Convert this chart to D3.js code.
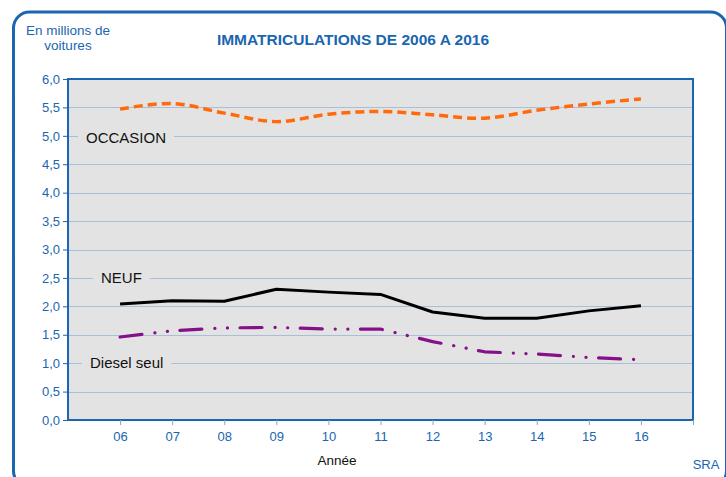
<!DOCTYPE html>
<html>
<head>
<meta charset="utf-8">
<script src="https://cdn.jsdelivr.net/npm/d3@7"></script>
<style>
  body { margin: 0; background: #fff; }
  text { font-family: "Liberation Sans", Arial, sans-serif; }
</style>
</head>
<body>
<script>

// years (2-digit labels) and series values, in millions of cars
var years = [6, 7, 8, 9, 10, 11, 12, 13, 14, 15, 16];
var yearLabels = ["06", "07", "08", "09", "10", "11", "12", "13", "14", "15", "16"];
var occasion = [5.47, 5.57, 5.40, 5.25, 5.38, 5.43, 5.37, 5.31, 5.45, 5.56, 5.65];
var neuf = [2.04, 2.10, 2.09, 2.30, 2.25, 2.21, 1.90, 1.79, 1.79, 1.92, 2.01];
var diesel = [1.46, 1.57, 1.62, 1.63, 1.60, 1.60, 1.38, 1.20, 1.16, 1.10, 1.06];
var yTicks = [0, 0.5, 1, 1.5, 2, 2.5, 3, 3.5, 4, 4.5, 5, 5.5, 6];

var blue = "#1a66b0";

// plot area
var plot = { left: 68, right: 693, top: 79, bottom: 420 };

var svg = d3.select("body")
            .append("svg")
            .attr("width", 726)
            .attr("height", 477);

// outer rounded frame (bottom edge runs off the picture)
svg.append("rect")
   .attr("x", 13.5)
   .attr("y", 12)
   .attr("width", 713)
   .attr("height", 475)
   .attr("rx", 16)
   .attr("fill", "none")
   .attr("stroke", blue)
   .attr("stroke-width", 3);

// scales
var xScale = d3.scaleLinear()
               .domain([5, 17])
               .range([plot.left, plot.right]);
var yScale = d3.scaleLinear()
               .domain([0, 6])
               .range([plot.bottom, plot.top]);

// background
svg.append("rect")
   .attr("x", plot.left)
   .attr("y", plot.top)
   .attr("width", plot.right - plot.left)
   .attr("height", plot.bottom - plot.top)
   .attr("fill", "#e3e3e3");

// grid lines
svg.append("g")
   .selectAll("line")
   .data(yTicks.slice(1))
   .join("line")
   .attr("x1", plot.left)
   .attr("x2", plot.right)
   .attr("y1", function(d) { return Math.round(yScale(d)) + 0.5; })
   .attr("y2", function(d) { return Math.round(yScale(d)) + 0.5; })
   .attr("stroke", "#a9bfd6")
   .attr("stroke-width", 1);

// series labels, with grey box to hide the grid behind
function seriesLabel(txt, x, y) {
  var t = svg.append("text")
             .attr("x", x)
             .attr("y", y)
             .attr("font-size", 15)
             .attr("fill", "#111")
             .text(txt);
  var b = t.node().getBBox();
  svg.insert("rect", "text")
     .attr("x", b.x - 8)
     .attr("y", b.y)
     .attr("width", b.width + 16)
     .attr("height", b.height)
     .attr("fill", "#e3e3e3");
}
seriesLabel("OCCASION", 86, 143);
seriesLabel("NEUF", 101, 283);
seriesLabel("Diesel seul", 90, 368);

// lines
function lineMaker(curve) {
  return d3.line()
           .x(function(d, i) { return xScale(years[i]); })
           .y(function(d) { return yScale(d); })
           .curve(curve);
}

svg.append("path")
   .attr("d", lineMaker(d3.curveCatmullRom.alpha(0.5))(occasion))
   .attr("fill", "none")
   .attr("stroke", "#ff6a0d")
   .attr("stroke-width", 3.5)
   .attr("stroke-dasharray", "9,5");

svg.append("path")
   .attr("d", lineMaker(d3.curveLinear)(neuf))
   .attr("fill", "none")
   .attr("stroke", "#000")
   .attr("stroke-width", 3)
   .attr("stroke-linejoin", "round");

svg.append("path")
   .attr("d", lineMaker(d3.curveLinear)(diesel))
   .attr("fill", "none")
   .attr("stroke", "#85108a")
   .attr("stroke-width", 3.2)
   .attr("stroke-linecap", "round")
   .attr("stroke-linejoin", "round")
   .attr("stroke-dasharray", "22,13,0.1,12.5,0.1,12.5");

// plot border
svg.append("rect")
   .attr("x", plot.left)
   .attr("y", plot.top)
   .attr("width", plot.right - plot.left)
   .attr("height", plot.bottom - plot.top)
   .attr("fill", "none")
   .attr("stroke", blue)
   .attr("stroke-width", 2);

// y axis
var yAxis = d3.axisLeft(yScale)
              .tickValues(yTicks)
              .tickSize(5)
              .tickFormat(function(d) { return d3.format(".1f")(d).replace(".", ","); });
var gy = svg.append("g")
            .attr("transform", "translate(" + plot.left + ",0)")
            .call(yAxis);
gy.select(".domain").remove();
gy.selectAll("line").attr("stroke", blue);
gy.selectAll("text")
  .attr("fill", blue)
  .attr("font-size", 13)
  .attr("x", -8);

// x axis
var xAxis = d3.axisBottom(xScale)
              .tickValues(years.concat([17]))
              .tickSize(5)
              .tickFormat(function(d, i) { return yearLabels[i] || ""; });
var gx = svg.append("g")
            .attr("transform", "translate(0," + plot.bottom + ")")
            .call(xAxis);
gx.select(".domain").remove();
gx.selectAll("line").attr("stroke", "#7fa6cc");
gx.selectAll("text")
  .attr("fill", blue)
  .attr("font-size", 13)
  .attr("y", 12);

// titles
svg.append("text")
   .attr("x", 353)
   .attr("y", 45)
   .attr("text-anchor", "middle")
   .attr("font-size", 15.5)
   .attr("font-weight", "bold")
   .attr("fill", blue)
   .text("IMMATRICULATIONS DE 2006 A 2016");

svg.append("text")
   .attr("x", 68)
   .attr("y", 35)
   .attr("text-anchor", "middle")
   .attr("font-size", 13.5)
   .attr("fill", blue)
   .text("En millions de");
svg.append("text")
   .attr("x", 68)
   .attr("y", 50)
   .attr("text-anchor", "middle")
   .attr("font-size", 13.5)
   .attr("fill", blue)
   .text("voitures");

svg.append("text")
   .attr("x", 337)
   .attr("y", 465)
   .attr("text-anchor", "middle")
   .attr("font-size", 13.5)
   .attr("fill", "#111")
   .text("Année");

svg.append("text")
   .attr("x", 706)
   .attr("y", 469)
   .attr("text-anchor", "middle")
   .attr("font-size", 13)
   .attr("fill", blue)
   .text("SRA");

</script>
</body>
</html>
